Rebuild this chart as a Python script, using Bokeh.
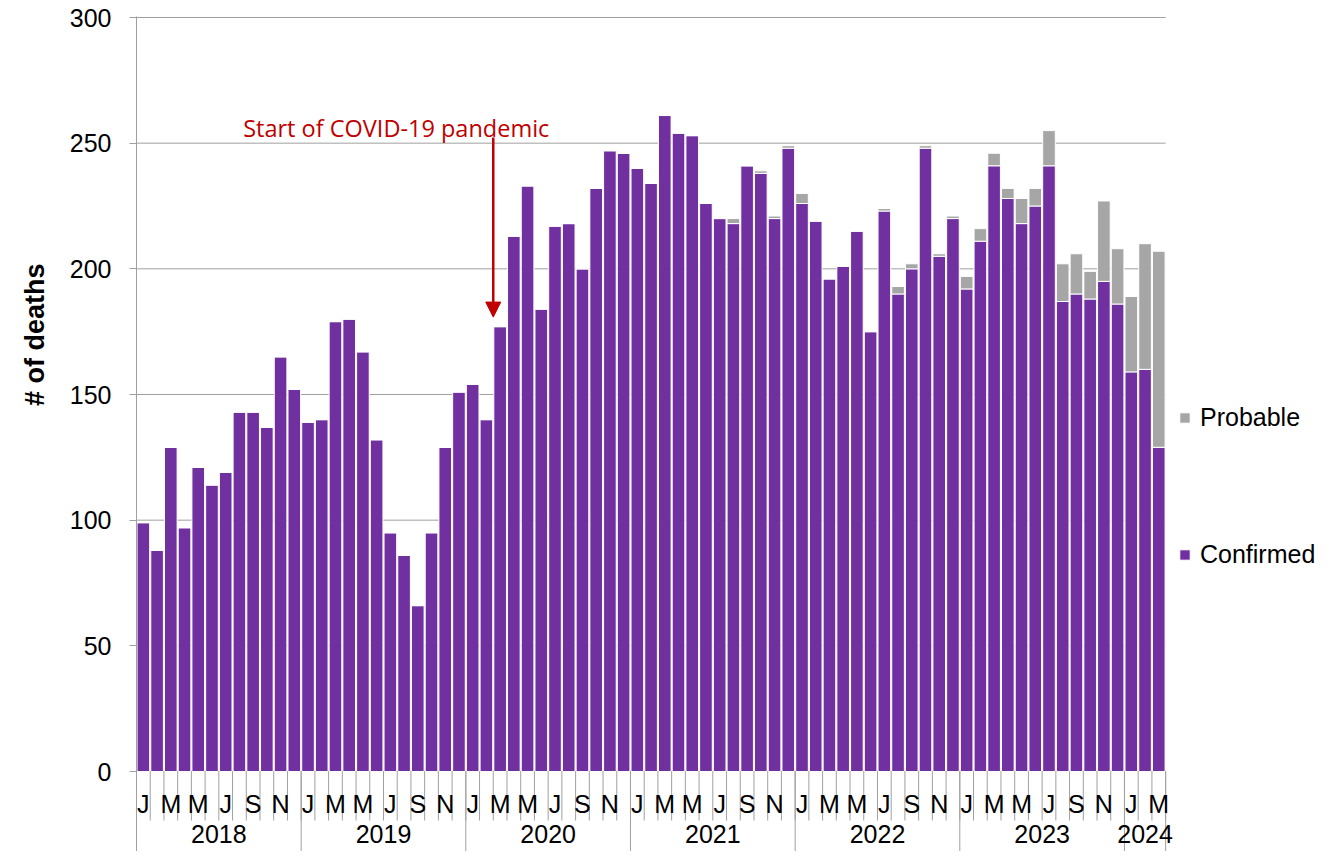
import math
from bokeh.plotting import figure
from bokeh.models import (Range1d, FixedTicker, Legend, LegendItem,
                          Label, Arrow, NormalHead, ColumnDataSource, Title)
from bokeh.core.properties import value
from bokeh.embed import file_html
from bokeh.resources import INLINE

# ---------------- data ----------------
years = ["2018", "2019", "2020", "2021", "2022", "2023", "2024"]
months_per_year = [12, 12, 12, 12, 12, 12, 3]
month_names = ["Jan", "Feb", "Mar", "Apr", "May", "Jun",
               "Jul", "Aug", "Sep", "Oct", "Nov", "Dec"]
month_letters = ["J", "F", "M", "A", "M", "J", "J", "A", "S", "O", "N", "D"]

confirmed_2018 = [99, 88, 129, 97, 121, 114, 119, 143, 143, 137, 165, 152]
confirmed_2019 = [139, 140, 179, 180, 167, 132, 95, 86, 66, 95, 129, 151]
confirmed_2020 = [154, 140, 177, 213, 233, 184, 217, 218, 200, 232, 247, 246]
confirmed_2021 = [240, 234, 261, 254, 253, 226, 220, 218, 241, 238, 220, 248]
confirmed_2022 = [226, 219, 196, 201, 215, 175, 223, 190, 200, 248, 205, 220]
confirmed_2023 = [192, 211, 241, 228, 218, 225, 241, 187, 190, 188, 195, 186]
confirmed_2024 = [159, 160, 129]

probable_2018 = [0] * 12
probable_2019 = [0] * 12
probable_2020 = [0] * 12
probable_2021 = [0, 0, 0, 0, 0, 0, 0, 2, 0, 1, 1, 1]
probable_2022 = [4, 0, 0, 0, 0, 0, 1, 3, 2, 1, 1, 1]
probable_2023 = [5, 5, 5, 4, 10, 7, 14, 15, 16, 11, 32, 22]
probable_2024 = [30, 50, 78]

y_ticks = [0, 50, 100, 150, 200, 250, 300]
y_title = "# of deaths"
annotation_text = "Start of COVID-19 pandemic"
annotation_year, annotation_month = "2020", "Mar"

confirmed = (confirmed_2018 + confirmed_2019 + confirmed_2020 + confirmed_2021
             + confirmed_2022 + confirmed_2023 + confirmed_2024)
probable = (probable_2018 + probable_2019 + probable_2020 + probable_2021
            + probable_2022 + probable_2023 + probable_2024)

months = [(y, m) for y, n in zip(years, months_per_year) for m in month_names[:n]]
n_months = len(months)
month_pos = [i + 0.5 for i in range(n_months)]      # centre of each month slot

# ---------------- styles / layout ----------------
PURPLE = "#7030A0"
GREY = "#A6A6A6"
LINE_GREY = "#A0A0A0"
RED = "#C00000"
FONT = "Liberation Sans"

W, H = 1318, 851
LEFT, TOP = 135, 16
PLOT_W = 1030                        # width used by the monthly slots
X_MAX = n_months * (W - LEFT) / PLOT_W   # extra room on the right for the legend
Y_MIN, Y_MAX = -31.83, 300.4
MONTH_TICK_BOTTOM = -19.5
MONTH_LABEL_Y = -13.1
YEAR_LABEL_Y = -25.0

p = figure(width=W, height=H, output_backend="svg", toolbar_location=None,
           x_range=Range1d(0, X_MAX), y_range=Range1d(Y_MIN, Y_MAX),
           x_axis_location=None,
           min_border_left=LEFT, min_border_right=0,
           min_border_top=TOP, min_border_bottom=0)
p.outline_line_color = None
p.background_fill_color = "white"
p.border_fill_color = "white"
p.xgrid.visible = False
p.ygrid.visible = False

# horizontal gridlines, limited to the monthly slots
p.segment(x0=[0] * len(y_ticks), y0=y_ticks, x1=[n_months] * len(y_ticks), y1=y_ticks,
          line_color=LINE_GREY, line_width=1)

src = ColumnDataSource(dict(x=month_pos, confirmed=confirmed, probable=probable))
rs = p.vbar_stack(["confirmed", "probable"], x="x", width=0.92, source=src,
                  color=[PURPLE, GREY], line_color="white", line_width=1)

# y axis
p.yaxis.ticker = FixedTicker(ticks=y_ticks)
p.yaxis.axis_line_color = LINE_GREY
p.yaxis.axis_line_width = 1
p.yaxis.major_tick_line_color = LINE_GREY
p.yaxis.major_tick_in = 0
p.yaxis.major_tick_out = 7
p.yaxis.minor_tick_in = 0
p.yaxis.minor_tick_out = 0
p.yaxis.major_label_standoff = 18
p.yaxis.major_label_text_font = FONT
p.yaxis.major_label_text_font_size = "25px"
p.yaxis.major_label_text_color = "black"

p.add_layout(Title(text=y_title, align="right", offset=247, standoff=34,
                   text_font=FONT, text_font_size="27px", text_font_style="bold",
                   text_color="black"), "left")

# category axis drawn in the lower band of the frame
bx = list(range(n_months + 1))
p.segment(x0=bx, y0=[0] * len(bx), x1=bx, y1=[MONTH_TICK_BOTTOM] * len(bx),
          line_color=LINE_GREY, line_width=1)

year_starts = [sum(months_per_year[:i]) for i in range(len(years))] + [n_months]
p.segment(x0=year_starts, y0=[0] * len(year_starts), x1=year_starts,
          y1=[Y_MIN] * len(year_starts), line_color=LINE_GREY, line_width=1)

lab_x, lab_t = [], []
for i, (yy, mm) in enumerate(months):
    mi = month_names.index(mm)
    if mi % 2 == 0:
        lab_x.append(month_pos[i])
        lab_t.append(month_letters[mi])
p.text(x=lab_x, y=[MONTH_LABEL_Y] * len(lab_x), text=lab_t,
       text_font=value(FONT), text_font_size="25px", text_align="center",
       text_baseline="middle", text_color="black")

year_x = [year_starts[i] + months_per_year[i] / 2 for i in range(len(years))]
p.text(x=year_x, y=[YEAR_LABEL_Y] * len(year_x), text=years,
       text_font=value(FONT), text_font_size="25px", text_align="center",
       text_baseline="middle", text_color="black")

# annotation
ax = months.index((annotation_year, annotation_month))
p.add_layout(Arrow(end=NormalHead(size=15, fill_color=RED, line_color=RED),
                   x_start=ax, y_start=252.3, x_end=ax, y_end=180.8,
                   line_color=RED, line_width=2.5))
p.add_layout(Label(x=ax, y=255.9, x_offset=-97, text=annotation_text,
                   text_align="center", text_baseline="alphabetic",
                   text_font="Open Sans", text_font_size="23.5px", text_color=RED))

# legend
legend = Legend(items=[LegendItem(label="Probable", renderers=[rs[1]]),
                       LegendItem(label="Confirmed", renderers=[rs[0]])],
                location=(1042, 282), orientation="vertical", spacing=108,
                glyph_width=13, glyph_height=13, label_standoff=9,
                label_text_font=FONT, label_text_font_size="25px",
                label_text_color="black",
                border_line_color=None, background_fill_alpha=0,
                padding=0, margin=0)
p.add_layout(legend)

open("out.html", "w").write(file_html(p, INLINE))
